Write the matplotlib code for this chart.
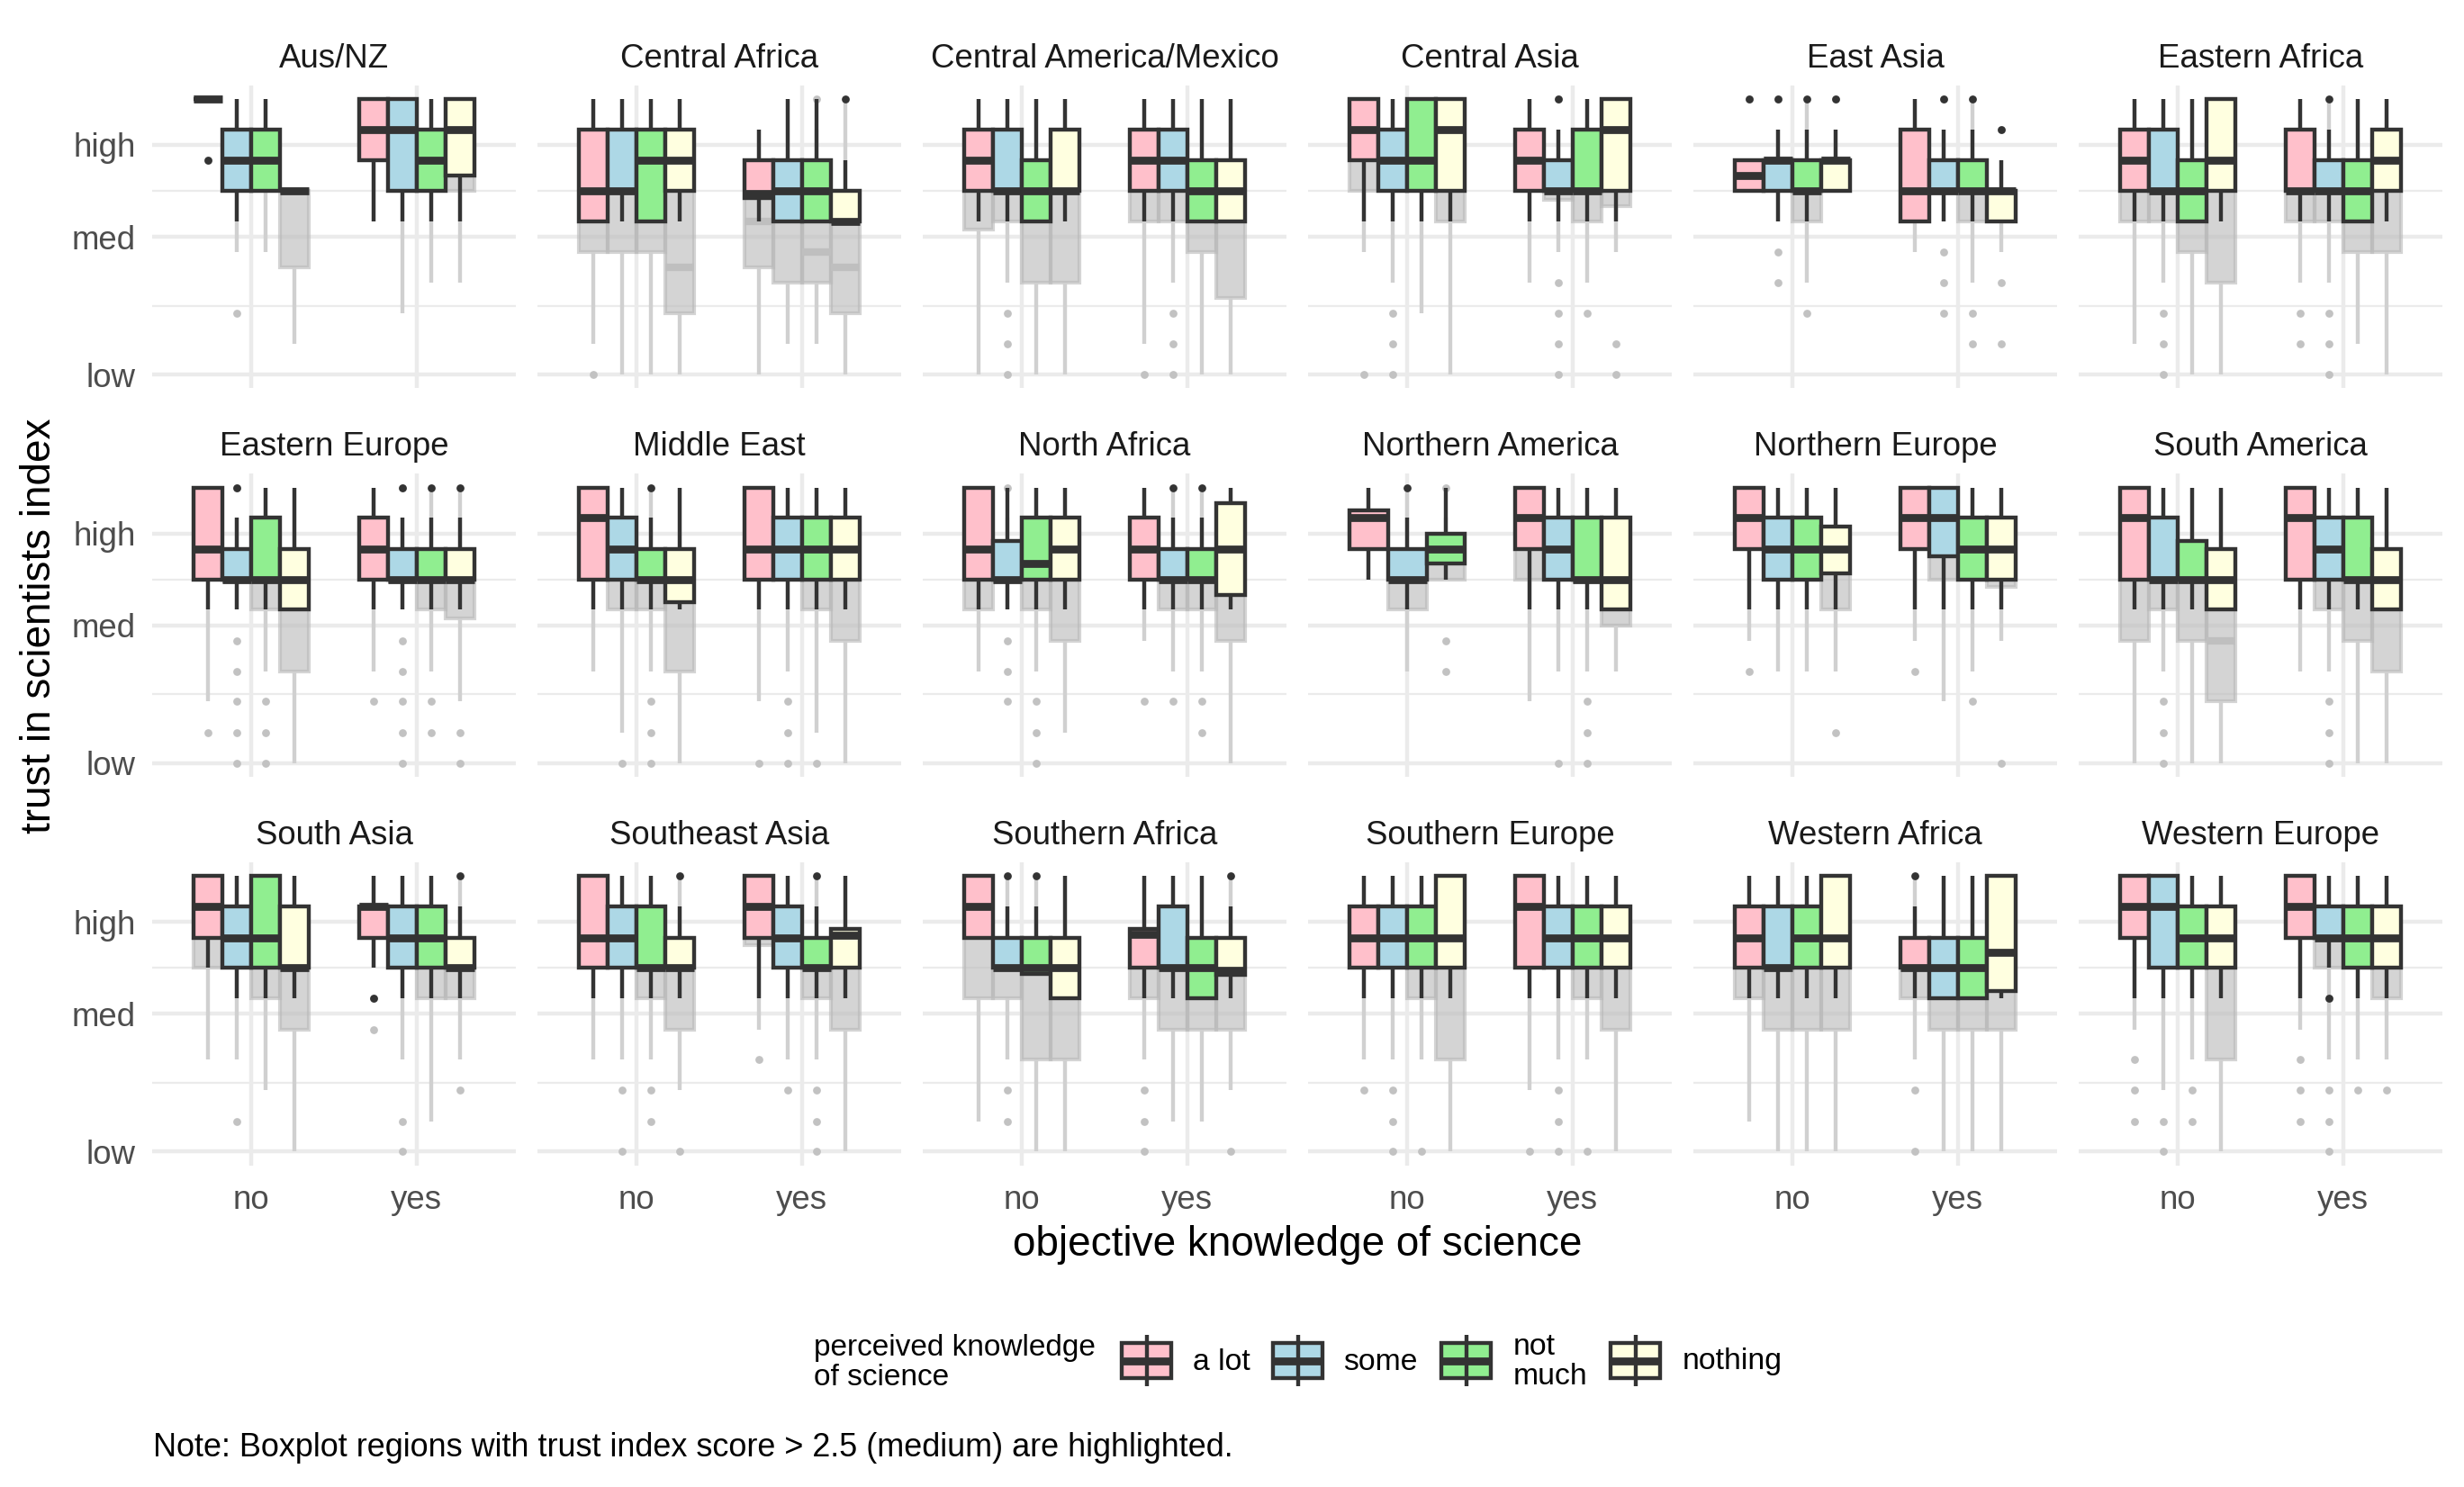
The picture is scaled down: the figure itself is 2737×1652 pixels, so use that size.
import matplotlib
matplotlib.use("Agg")
import matplotlib.pyplot as plt
from matplotlib.patches import Rectangle
from matplotlib.lines import Line2D

plt.rcParams['font.family'] = ['Liberation Sans', 'DejaVu Sans']

# ---------------- data ----------------
REGIONS = ["Aus/NZ", "Central Africa", "Central America/Mexico", "Central Asia",
           "East Asia", "Eastern Africa", "Eastern Europe", "Middle East",
           "North Africa", "Northern America", "Northern Europe", "South America",
           "South Asia", "Southeast Asia", "Southern Africa", "Southern Europe",
           "Western Africa", "Western Europe"]
X_LEVELS = ["no", "yes"]
PERCEIVED = ["a lot", "some", "not\nmuch", "nothing"]
Y_TICKS = [1.0, 2.5, 3.5]
Y_LABELS = ["low", "med", "high"]
Y_MINOR = [1.75, 3.0]
FILLS = ["#FFC0CB", "#ADD8E6", "#90EE90", "#FFFFE0"]

# each row: [no: a lot, some, not much, nothing, yes: a lot, some, not much, nothing]
# highlighted layer (scores > 2.5)
H_Q1 = [
    [4.00, 3.00, 3.00, 3.00, 3.33, 3.00, 3.00, 3.17],
    [2.67, 3.00, 2.67, 3.00, 2.92, 2.67, 2.67, 2.67],
    [3.00, 3.00, 2.67, 3.00, 3.00, 3.00, 2.67, 2.67],
    [3.33, 3.00, 3.00, 3.00, 3.00, 3.00, 3.00, 3.00],
    [3.00, 3.00, 3.00, 3.00, 2.67, 3.00, 3.00, 2.67],
    [3.00, 3.00, 2.67, 3.00, 3.00, 3.00, 2.67, 3.00],
    [3.00, 3.00, 3.00, 2.67, 3.00, 3.00, 3.00, 3.00],
    [3.00, 3.00, 3.00, 2.75, 3.00, 3.00, 3.00, 3.00],
    [3.00, 3.00, 3.00, 3.00, 3.00, 3.00, 3.00, 2.83],
    [3.33, 3.00, 3.17, None, 3.33, 3.00, 3.00, 2.67],
    [3.33, 3.00, 3.00, 3.07, 3.33, 3.25, 3.00, 3.00],
    [3.00, 3.00, 3.00, 2.67, 3.00, 3.00, 3.00, 2.67],
    [3.33, 3.00, 3.00, 3.00, 3.33, 3.00, 3.00, 3.00],
    [3.00, 3.00, 3.00, 3.00, 3.33, 3.00, 3.00, 3.00],
    [3.33, 3.00, 2.93, 2.67, 3.00, 3.00, 2.67, 2.92],
    [3.00, 3.00, 3.00, 3.00, 3.00, 3.00, 3.00, 3.00],
    [3.00, 3.00, 3.00, 3.00, 3.00, 2.67, 2.67, 2.75],
    [3.33, 3.00, 3.00, 3.00, 3.33, 3.33, 3.00, 3.00],
]
H_MED = [
    [4.00, 3.33, 3.33, 3.00, 3.67, 3.67, 3.33, 3.67],
    [3.00, 3.00, 3.33, 3.33, 2.97, 3.00, 3.00, 2.67],
    [3.33, 3.00, 3.00, 3.00, 3.33, 3.33, 3.00, 3.00],
    [3.67, 3.33, 3.33, 3.67, 3.33, 3.00, 3.00, 3.67],
    [3.17, 3.33, 3.00, 3.33, 3.00, 3.00, 3.00, 3.00],
    [3.33, 3.00, 3.00, 3.33, 3.00, 3.00, 3.00, 3.33],
    [3.33, 3.00, 3.00, 3.00, 3.33, 3.00, 3.00, 3.00],
    [3.67, 3.33, 3.00, 3.00, 3.33, 3.33, 3.33, 3.33],
    [3.33, 3.00, 3.17, 3.33, 3.33, 3.00, 3.00, 3.33],
    [3.67, 3.00, 3.33, None, 3.67, 3.33, 3.00, 3.00],
    [3.67, 3.33, 3.33, 3.33, 3.67, 3.67, 3.33, 3.33],
    [3.67, 3.00, 3.00, 3.00, 3.67, 3.33, 3.00, 3.00],
    [3.67, 3.33, 3.33, 3.00, 3.67, 3.33, 3.33, 3.00],
    [3.33, 3.33, 3.00, 3.00, 3.67, 3.33, 3.00, 3.36],
    [3.67, 3.00, 3.00, 3.00, 3.37, 3.00, 3.00, 2.97],
    [3.33, 3.33, 3.33, 3.33, 3.67, 3.33, 3.33, 3.33],
    [3.33, 3.00, 3.33, 3.33, 3.00, 3.00, 3.00, 3.17],
    [3.67, 3.67, 3.33, 3.33, 3.67, 3.33, 3.33, 3.33],
]
H_Q3 = [
    [4.00, 3.67, 3.67, 3.00, 4.00, 4.00, 3.67, 4.00],
    [3.67, 3.67, 3.67, 3.67, 3.33, 3.33, 3.33, 3.00],
    [3.67, 3.67, 3.33, 3.67, 3.67, 3.67, 3.33, 3.33],
    [4.00, 3.67, 4.00, 4.00, 3.67, 3.33, 3.67, 4.00],
    [3.33, 3.33, 3.33, 3.33, 3.67, 3.33, 3.33, 3.00],
    [3.67, 3.67, 3.33, 4.00, 3.67, 3.33, 3.33, 3.67],
    [4.00, 3.33, 3.67, 3.33, 3.67, 3.33, 3.33, 3.33],
    [4.00, 3.67, 3.33, 3.33, 4.00, 3.67, 3.67, 3.67],
    [4.00, 3.42, 3.67, 3.67, 3.67, 3.33, 3.33, 3.83],
    [3.75, 3.33, 3.50, None, 4.00, 3.67, 3.67, 3.67],
    [4.00, 3.67, 3.67, 3.58, 4.00, 4.00, 3.67, 3.67],
    [4.00, 3.67, 3.42, 3.33, 4.00, 3.67, 3.67, 3.33],
    [4.00, 3.67, 4.00, 3.67, 3.67, 3.67, 3.67, 3.33],
    [4.00, 3.67, 3.67, 3.33, 4.00, 3.67, 3.33, 3.42],
    [4.00, 3.33, 3.33, 3.33, 3.42, 3.67, 3.33, 3.33],
    [3.67, 3.67, 3.67, 4.00, 4.00, 3.67, 3.67, 3.67],
    [3.67, 3.67, 3.67, 4.00, 3.33, 3.33, 3.33, 4.00],
    [4.00, 4.00, 3.67, 3.67, 4.00, 3.67, 3.67, 3.67],
]
H_LO = [
    [4.00, 2.67, 3.00, 3.00, 2.67, 2.67, 2.67, 2.67],
    [2.67, 2.67, 2.67, 2.67, 2.67, 2.67, 2.67, 2.67],
    [2.67, 2.67, 2.67, 2.67, 2.67, 2.67, 2.67, 2.67],
    [2.67, 2.67, 2.67, 2.67, 2.67, 2.67, 2.67, 2.67],
    [3.00, 2.67, 2.67, 3.00, 2.67, 2.67, 2.67, 2.67],
    [2.67, 2.67, 2.67, 2.67, 2.67, 2.67, 2.67, 2.67],
    [2.67, 2.67, 2.67, 2.67, 2.67, 2.67, 2.67, 2.67],
    [2.67, 2.67, 2.67, 2.67, 2.67, 2.67, 2.67, 2.67],
    [2.67, 2.67, 2.67, 2.67, 2.67, 2.67, 2.67, 2.67],
    [3.00, 2.67, 3.00, None, 2.67, 2.67, 2.67, 2.67],
    [2.67, 2.67, 2.67, 2.67, 2.67, 2.67, 2.67, 2.67],
    [2.67, 2.67, 2.67, 2.67, 2.67, 2.67, 2.67, 2.67],
    [3.00, 2.67, 2.67, 2.67, 3.00, 2.67, 2.67, 2.67],
    [2.67, 2.67, 2.67, 2.67, 2.67, 2.67, 2.67, 2.67],
    [3.33, 3.00, 2.93, 2.67, 2.67, 2.67, 2.67, 2.67],
    [2.67, 2.67, 2.67, 2.67, 2.67, 2.67, 2.67, 2.67],
    [2.67, 2.67, 2.67, 2.67, 2.67, 2.67, 2.67, 2.67],
    [2.67, 2.67, 2.67, 2.67, 2.67, 3.00, 2.67, 2.67],
]
H_HI = [
    [4.00, 4.00, 4.00, 3.00, 4.00, 4.00, 4.00, 4.00],
    [4.00, 4.00, 4.00, 4.00, 3.67, 4.00, 4.00, 3.33],
    [4.00, 4.00, 4.00, 4.00, 4.00, 4.00, 4.00, 4.00],
    [4.00, 4.00, 4.00, 4.00, 4.00, 3.67, 4.00, 4.00],
    [3.33, 3.67, 3.67, 3.67, 4.00, 3.67, 3.67, 3.33],
    [4.00, 4.00, 4.00, 4.00, 4.00, 3.67, 4.00, 4.00],
    [4.00, 3.67, 4.00, 4.00, 4.00, 3.67, 3.67, 3.67],
    [4.00, 4.00, 3.67, 4.00, 4.00, 4.00, 4.00, 4.00],
    [4.00, 4.00, 4.00, 4.00, 4.00, 3.67, 3.67, 4.00],
    [4.00, 3.67, 4.00, None, 4.00, 4.00, 4.00, 4.00],
    [4.00, 4.00, 4.00, 4.00, 4.00, 4.00, 4.00, 4.00],
    [4.00, 4.00, 4.00, 4.00, 4.00, 4.00, 4.00, 4.00],
    [4.00, 4.00, 4.00, 4.00, 4.00, 4.00, 4.00, 3.67],
    [4.00, 4.00, 4.00, 3.67, 4.00, 4.00, 3.67, 4.00],
    [4.00, 3.67, 3.67, 4.00, 4.00, 4.00, 4.00, 3.67],
    [4.00, 4.00, 4.00, 4.00, 4.00, 4.00, 4.00, 4.00],
    [4.00, 4.00, 4.00, 4.00, 3.67, 4.00, 4.00, 4.00],
    [4.00, 4.00, 4.00, 4.00, 4.00, 4.00, 4.00, 4.00],
]
H_OUT = [
    [[3.33], [], [], [], [], [], [], []],
    [[], [], [], [], [], [], [], [4.00]],
    [[], [], [], [], [], [], [], []],
    [[], [], [], [], [], [4.00], [], []],
    [[4.00], [4.00], [4.00], [4.00], [], [4.00], [4.00], [3.67]],
    [[], [], [], [], [], [4.00], [], []],
    [[], [4.00], [], [], [], [4.00], [4.00], [4.00]],
    [[], [], [4.00], [], [], [], [], []],
    [[], [], [], [], [], [4.00], [4.00], []],
    [[], [4.00], [], None, [], [], [], []],
    [[], [], [], [], [], [], [], []],
    [[], [], [], [], [], [], [], []],
    [[], [], [], [], [2.67], [], [], [4.00]],
    [[], [], [], [4.00], [], [], [4.00], []],
    [[], [4.00], [4.00], [], [], [], [], [4.00]],
    [[], [], [], [], [], [], [], []],
    [[], [], [], [], [4.00], [], [], []],
    [[], [], [], [], [], [2.67], [], []],
]

# full-data (grey) layer; None = same value as the highlighted layer
G_Q1 = [
    [4.00, 3.00, 3.00, 2.17, 3.33, 3.00, 3.00, 3.00],
    [2.33, 2.33, 2.33, 1.67, 2.17, 2.00, 2.00, 1.67],
    [2.58, 2.67, 2.00, 2.00, 2.67, 2.67, 2.33, 1.83],
    [3.00, 3.00, 3.00, 2.67, 3.00, 2.90, 2.67, 2.83],
    [3.00, 3.00, 2.67, 3.00, 2.67, 3.00, 2.67, 2.67],
    [2.67, 2.67, 2.33, 2.00, 2.67, 2.67, 2.33, 2.33],
    [3.00, 3.00, 2.67, 2.00, 3.00, 3.00, 2.67, 2.58],
    [3.00, 2.67, 2.67, 2.00, 3.00, 3.00, 2.67, 2.33],
    [2.67, 3.00, 2.67, 2.33, 3.00, 2.67, 2.67, 2.33],
    [3.33, 2.67, 3.00, None, 3.00, 3.00, 3.00, 2.50],
    [3.33, 3.00, 3.00, 2.67, 3.33, 3.00, 3.00, 2.92],
    [2.33, 2.67, 2.33, 1.67, 3.00, 2.67, 2.33, 2.00],
    [3.00, 3.00, 2.67, 2.33, 3.33, 3.00, 2.67, 2.67],
    [3.00, 3.00, 2.67, 2.33, 3.25, 3.00, 2.67, 2.33],
    [2.67, 2.67, 2.00, 2.00, 2.67, 2.33, 2.33, 2.33],
    [3.00, 3.00, 2.67, 2.00, 3.00, 3.00, 2.67, 2.33],
    [2.67, 2.33, 2.33, 2.33, 2.67, 2.33, 2.33, 2.33],
    [3.33, 3.00, 3.00, 2.00, 3.33, 3.00, 3.00, 2.67],
]
G_MED = [[None] * 8 for _ in REGIONS]
G_MED[1] = [None, None, None, 2.17, 2.67, None, 2.33, 2.17]
G_MED[11] = [None, None, None, 2.33, None, None, None, None]
G_LO = [
    [4.00, 2.33, 2.33, 1.33, 2.67, 1.67, 2.00, 2.00],
    [1.33, 1.00, 1.00, 1.00, 1.00, 1.33, 1.33, 1.00],
    [1.00, 2.00, 1.00, 1.00, 1.33, 2.00, 1.00, 1.00],
    [2.33, 2.00, 1.67, 1.00, 2.00, 2.33, 2.00, 2.33],
    [3.00, 2.67, 2.00, 3.00, 2.33, 2.67, 2.00, 2.33],
    [1.33, 2.00, 1.00, 1.00, 2.00, 2.00, 1.33, 1.00],
    [1.67, 2.67, 2.00, 1.00, 2.00, 2.67, 2.00, 1.67],
    [2.00, 1.33, 2.00, 1.00, 1.67, 2.00, 1.33, 1.00],
    [2.00, 2.67, 2.00, 1.33, 2.33, 2.00, 2.00, 1.00],
    [3.00, 2.00, 3.00, None, 1.67, 2.00, 2.00, 2.00],
    [2.33, 2.00, 2.00, 2.00, 2.33, 1.67, 2.00, 2.33],
    [1.00, 2.00, 1.00, 1.00, 2.00, 2.00, 1.00, 1.00],
    [2.00, 2.00, 1.67, 1.00, 3.00, 2.00, 1.33, 2.00],
    [2.00, 2.00, 2.00, 1.67, 2.33, 2.00, 2.00, 1.00],
    [1.33, 2.00, 1.00, 1.00, 2.00, 1.33, 1.33, 1.67],
    [2.00, 2.00, 2.00, 1.00, 1.67, 2.00, 2.00, 1.00],
    [1.33, 1.00, 1.00, 1.00, 2.00, 1.00, 1.00, 1.00],
    [2.33, 1.67, 2.00, 1.00, 2.33, 2.00, 2.00, 2.00],
]
G_HI = [[None] * 8 for _ in REGIONS]
G_HI[1] = [None, None, None, None, None, None, 3.67, 4.00]
G_HI[4] = [None, None, 4.00, None, None, None, 4.00, None]
G_HI[5] = [None, None, None, None, None, 4.00, None, None]
G_HI[6] = [None, None, None, None, None, None, 4.00, 4.00]
G_HI[7] = [None, None, 4.00, None, None, None, None, None]
G_HI[8] = [None, 3.67, None, None, None, 4.00, 4.00, None]
G_HI[9] = [None, 4.00, 3.67, None, None, None, None, None]
G_HI[12] = [None, None, None, None, None, None, None, 4.00]
G_HI[13] = [None, None, None, 4.00, None, None, 4.00, None]
G_HI[14] = [None, 4.00, 4.00, None, None, None, None, 4.00]
G_HI[16] = [None, None, None, None, 4.00, None, None, None]
G_OUT = [
    [[3.33], [1.67], [], [], [], [], [], []],
    [[1.00], [], [], [], [], [], [4.00], []],
    [[], [1.67, 1.33, 1.00], [], [], [1.00], [1.67, 1.33, 1.00], [], []],
    [[1.00], [1.67, 1.33, 1.00], [], [], [], [4.00, 2.00, 1.67, 1.33, 1.00], [1.67], [1.33, 1.00]],
    [[4.00], [4.00, 2.33, 2.00], [1.67], [4.00], [], [4.00, 2.33, 2.00, 1.67], [1.67, 1.33], [3.67, 2.00, 1.33]],
    [[], [1.67, 1.33, 1.00], [], [], [1.67, 1.33], [1.67, 1.33, 1.00], [], []],
    [[1.33], [4.00, 2.33, 2.00, 1.67, 1.33, 1.00], [1.67, 1.33, 1.00], [], [1.67],
     [4.00, 2.33, 2.00, 1.67, 1.33, 1.00], [1.67, 1.33], [1.33, 1.00]],
    [[], [1.00], [1.67, 1.33, 1.00], [], [1.00], [1.67, 1.33, 1.00], [1.00], []],
    [[], [4.00, 2.33, 2.00, 1.67], [1.67, 1.33, 1.00], [], [1.67], [1.67], [1.67, 1.33], []],
    [[], [], [4.00, 2.33, 2.00], None, [], [1.00], [1.67, 1.33, 1.00], []],
    [[2.00], [], [], [1.33], [2.00], [], [1.67], [1.00]],
    [[], [1.67, 1.33, 1.00], [], [], [], [1.67, 1.33, 1.00], [], []],
    [[], [1.33], [], [], [2.67, 2.33], [1.33, 1.00], [], [1.67]],
    [[], [1.67, 1.00], [1.67, 1.33], [1.00], [2.00], [1.67], [1.67, 1.33, 1.00], []],
    [[], [1.67, 1.33], [], [], [1.67, 1.33, 1.00], [], [], [1.00]],
    [[1.67], [1.67, 1.33, 1.00], [1.00], [], [1.00], [1.67, 1.33, 1.00], [1.00], []],
    [[], [], [], [], [1.67, 1.00], [], [], []],
    [[2.00, 1.67, 1.33], [1.33, 1.00], [1.67, 1.33], [], [2.00, 1.67, 1.33],
     [2.67, 1.67, 1.33, 1.00], [1.67], [1.67]],
]

# ---------------- layout ----------------
W, H = 2737, 1652
DPI = 300
fig = plt.figure(figsize=(W / DPI, H / DPI), dpi=DPI)
fig.patch.set_facecolor("white")

overlay = fig.add_axes([0, 0, 1, 1])
overlay.set_xlim(0, W)
overlay.set_ylim(H, 0)
overlay.axis("off")

COL_LEFT = [169, 597, 1025, 1453, 1881, 2309]
ROW_TOP = [94.7, 526.4, 958.0]
PW, PH = 404, 336.6

DARK = "#333333"
GRID = "#ebebeb"
GREY_FILL = (0.74, 0.74, 0.74, 0.65)
GREY_EDGE = (0.72, 0.72, 0.72, 0.6)
GREY_MED = "#bfbfbf"
GREY_LINE = "#d0d0d0"
GREY_PT = "#c2c2c2"
DODGE = 0.7


def pick(g, h):
    return h if g is None else g


for r, region in enumerate(REGIONS):
    row, col = divmod(r, 6)
    left = COL_LEFT[col] / W
    bottom = 1 - (ROW_TOP[row] + PH) / H
    ax = fig.add_axes([left, bottom, PW / W, PH / H])
    ax.set_xlim(0.4, 2.6)
    ax.set_ylim(0.85, 4.15)
    for s in ax.spines.values():
        s.set_visible(False)
    ax.set_facecolor("none")
    ax.set_axisbelow(True)
    ax.set_xticks([1, 2], labels=X_LEVELS)
    ax.set_yticks(Y_TICKS, labels=Y_LABELS)
    ax.set_yticks(Y_MINOR, minor=True)
    ax.grid(which="major", color=GRID, linewidth=1.07, zorder=0)
    ax.grid(which="minor", axis="y", color=GRID, linewidth=0.53, zorder=0)
    ax.tick_params(which="both", length=0)
    ax.tick_params(axis="y", labelsize=8.8, labelcolor="#4d4d4d", pad=4.4,
                   labelleft=(col == 0))
    ax.tick_params(axis="x", labelsize=8.8, labelcolor="#4d4d4d", pad=5.2,
                   labelbottom=(row == 2))
    ax.text(0.5, 1 + 29.5 / PH, region, transform=ax.transAxes, ha="center",
            va="center", fontsize=8.8, color="#1a1a1a")

    for xi in range(2):
        idx = [xi * 4 + k for k in range(4) if H_Q1[r][xi * 4 + k] is not None]
        n = len(idx)
        w = DODGE / n
        for j, i in enumerate(idx):
            k = i % 4
            pos = (xi + 1) - DODGE / 2 + w * (j + 0.5)
            hs = dict(q1=H_Q1[r][i], med=H_MED[r][i], q3=H_Q3[r][i],
                      whislo=H_LO[r][i], whishi=H_HI[r][i], fliers=H_OUT[r][i])
            gs = dict(q1=G_Q1[r][i], med=pick(G_MED[r][i], H_MED[r][i]),
                      q3=H_Q3[r][i], whislo=G_LO[r][i],
                      whishi=pick(G_HI[r][i], H_HI[r][i]), fliers=G_OUT[r][i])
            # grey full-data boxplot
            ax.bxp([gs], positions=[pos], widths=[w], patch_artist=True,
                   showcaps=False, manage_ticks=False, zorder=2,
                   boxprops=dict(facecolor=GREY_FILL, edgecolor=GREY_EDGE,
                                 linewidth=1.0),
                   medianprops=dict(color=GREY_MED, linewidth=2.0,
                                    solid_capstyle="butt"),
                   whiskerprops=dict(color=GREY_LINE, linewidth=1.05,
                                     solid_capstyle="butt"),
                   flierprops=dict(marker="o", markerfacecolor=GREY_PT,
                                   markeredgecolor="none", markersize=2.1,
                                   linestyle="none"))
            # highlighted boxplot (> 2.5)
            ax.bxp([hs], positions=[pos], widths=[w], patch_artist=True,
                   showcaps=False, manage_ticks=False, zorder=3,
                   boxprops=dict(facecolor=FILLS[k], edgecolor=DARK,
                                 linewidth=1.05),
                   medianprops=dict(color=DARK, linewidth=2.1,
                                    solid_capstyle="butt"),
                   whiskerprops=dict(color=DARK, linewidth=1.05,
                                     solid_capstyle="butt"),
                   flierprops=dict(marker="o", markerfacecolor=DARK,
                                   markeredgecolor="none", markersize=2.1,
                                   linestyle="none"))

# axis titles
overlay.text(1441, 1383, "objective knowledge of science", ha="center",
             va="center", fontsize=11, color="black")
overlay.text(44, 695, "trust in scientists index", ha="center", va="center",
             rotation=90, fontsize=11, color="black")

# legend
overlay.text(904, 1514, "perceived knowledge\nof science", ha="left",
             va="center", fontsize=8.0, linespacing=1.05, color="black")
KEY_LEFT = [1246, 1414, 1601, 1789]
LABEL_LEFT = [1325, 1492, 1681, 1869]
KW = 55
for k in range(4):
    x0 = KEY_LEFT[k]
    xc = x0 + KW / 2
    overlay.add_line(Line2D([xc, xc], [1483, 1540], color=DARK, linewidth=1.05,
                            solid_capstyle="butt"))
    overlay.add_patch(Rectangle((x0, 1492), KW, 39, facecolor=FILLS[k],
                                edgecolor=DARK, linewidth=1.05))
    overlay.add_line(Line2D([x0, x0 + KW], [1512, 1512], color=DARK,
                            linewidth=2.1, solid_capstyle="butt"))
    overlay.text(LABEL_LEFT[k], 1513, PERCEIVED[k], ha="left", va="center",
                 fontsize=8.1, linespacing=1.05, color="black")

overlay.text(170, 1608, "Note: Boxplot regions with trust index score > 2.5 "
             "(medium) are highlighted.", ha="left", va="center", fontsize=8.65,
             color="black")

fig.savefig("out.png", dpi=DPI, facecolor="white")
